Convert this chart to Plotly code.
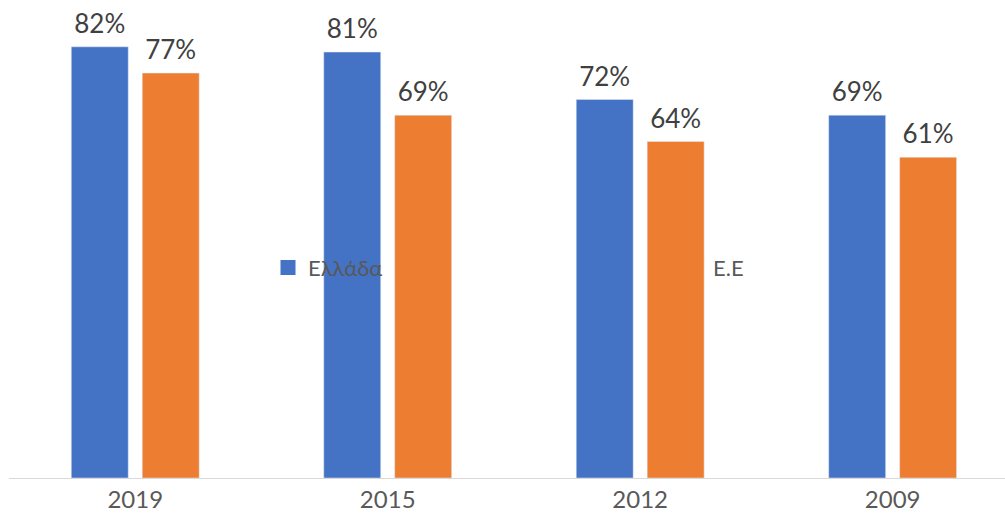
import plotly.graph_objects as go

years = ["2019", "2015", "2012", "2009"]
greece = [82, 81, 72, 69]
eu = [77, 69, 64, 61]
series_names = ["Ελλάδα", "Ε.Ε"]
colors = ["#4472C4", "#ED7D31"]

FONT = "Lato, 'Open Sans', sans-serif"
GAP = 0.438

fig = go.Figure()
for name, vals, col in zip(series_names, [greece, eu], colors):
    fig.add_trace(go.Bar(
        x=years, y=vals, name=name, marker_color=col,
        showlegend=False, legendgroup=name, hoverinfo="skip",
    ))
for name, vals in zip(series_names, [greece, eu]):
    fig.add_trace(go.Scatter(
        x=years, y=vals, mode="markers+text", name=name + " labels",
        text=[f"{v}%" for v in vals], textposition="top center",
        textfont=dict(size=26, color="#404040", family=FONT),
        marker=dict(size=10, opacity=0), showlegend=False, cliponaxis=False,
        hoverinfo="skip", alignmentgroup="labels", offsetgroup=name,
    ))
for name, col, lg in zip(series_names, colors, ["legend", "legend2"]):
    fig.add_trace(go.Scatter(
        x=[None], y=[None], mode="markers", name=name, legendgroup=name,
        marker=dict(symbol="square", size=15, color=col), legend=lg,
        alignmentgroup="legend-only", offsetgroup="legend-only",
    ))

fig.update_layout(
    width=1005, height=515,
    margin=dict(l=9, r=0, t=0, b=37),
    paper_bgcolor="white", plot_bgcolor="white",
    barmode="group", bargap=GAP, bargroupgap=0.197,
    scattermode="group", scattergap=GAP,
    font=dict(family=FONT, color="#595959"),
    xaxis=dict(range=[-0.5, 3.445], showline=True, linecolor="#D9D9D9", linewidth=1,
               showgrid=False, ticks="", tickfont=dict(size=24, color="#595959", family=FONT),
               automargin=False, fixedrange=True),
    yaxis=dict(range=[0, 90.9], visible=False, showgrid=False, zeroline=False,
               automargin=False, fixedrange=True),
    legend=dict(x=(288 - 20 - 9) / 996, xanchor="left", y=0.44, yanchor="middle", orientation="h",
                font=dict(size=22, color="#595959", family=FONT), bgcolor="rgba(0,0,0,0)",
                itemsizing="trace"),
    legend2=dict(x=(693 - 20 - 9) / 996, xanchor="left", y=0.44, yanchor="middle", orientation="h",
                 font=dict(size=22, color="#595959", family=FONT), bgcolor="rgba(0,0,0,0)",
                 itemsizing="trace"),
    showlegend=True,
)

fig.write_html("out.html", config={"displayModeBar": False},
               post_script="document.body.style.margin='0';")
